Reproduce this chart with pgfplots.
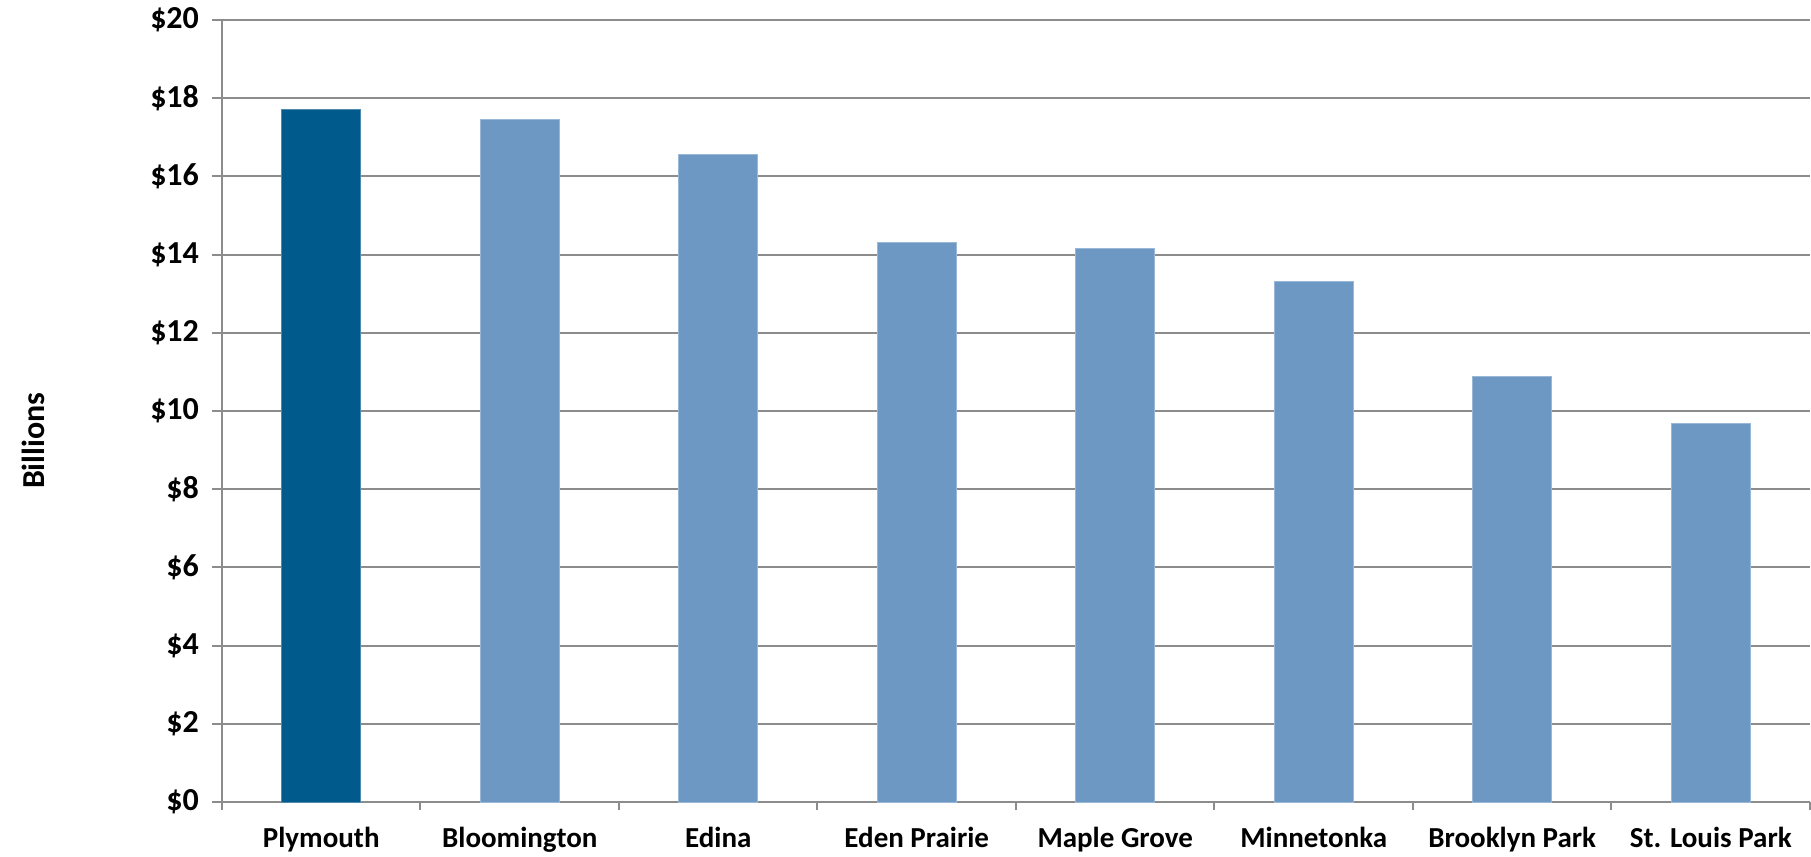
\documentclass[border=0pt]{standalone}
\usepackage{fontspec}
\setmainfont{Carlito}
\usepackage{pgfplots}
\pgfplotsset{compat=1.18}
\definecolor{darkbar}{RGB}{0,90,140}
\definecolor{lightbar}{RGB}{110,152,196}
\definecolor{gridgray}{RGB}{140,140,140}
\begin{document}
\begin{tikzpicture}
\begin{axis}[
    at={(0,0)}, anchor=south west,
    scale only axis,
    width=794pt, height=391pt,
    ybar, bar width=39.5pt, bar shift=0pt,
    xmin=-0.5, xmax=7.5,
    ymin=0, ymax=20,
    axis x line*=bottom,
    axis y line*=left,
    axis line style={gridgray, line width=1pt, -},
    xtick={0,...,7},
    xticklabels={Plymouth,Bloomington,Edina,Eden Prairie,Maple Grove,Minnetonka,Brooklyn Park,St. Louis Park},
    minor xtick={-0.5,0.5,...,7.5},
    ytick={0,2,...,20},
    yticklabels={\$0,\$2,\$4,\$6,\$8,\$10,\$12,\$14,\$16,\$18,\$20},
    tick align=outside,
    major x tick style={draw=none},
    minor x tick style={gridgray, line width=1pt},
    minor tick length=4pt,
    y tick style={gridgray, line width=1pt},
    major tick length=5pt,
    ymajorgrids=true,
    grid style={gridgray, line width=1pt},
    xticklabel style={font=\fontsize{14.5}{16}\selectfont\bfseries, yshift=-4pt},
    yticklabel style={font=\fontsize{16}{18}\selectfont\bfseries, xshift=-3pt},
    ylabel={\fontsize{16}{18}\selectfont\bfseries Billions},
    every axis y label/.style={at={(axis description cs:-0.119,0.462)}, rotate=90, anchor=center},
]
\addplot[fill=darkbar, draw=darkbar!70!white, line width=0.5pt] coordinates {(0,17.72)};
\addplot[fill=lightbar, draw=lightbar!70!white, line width=0.5pt] coordinates {
    (1,17.46) (2,16.57) (3,14.30) (4,14.15) (5,13.31) (6,10.88) (7,9.67)};
\end{axis}
\pgfresetboundingbox
\path[use as bounding box] (-111pt,-27.5pt) rectangle (794.5pt,401pt);
\end{tikzpicture}
\end{document}
